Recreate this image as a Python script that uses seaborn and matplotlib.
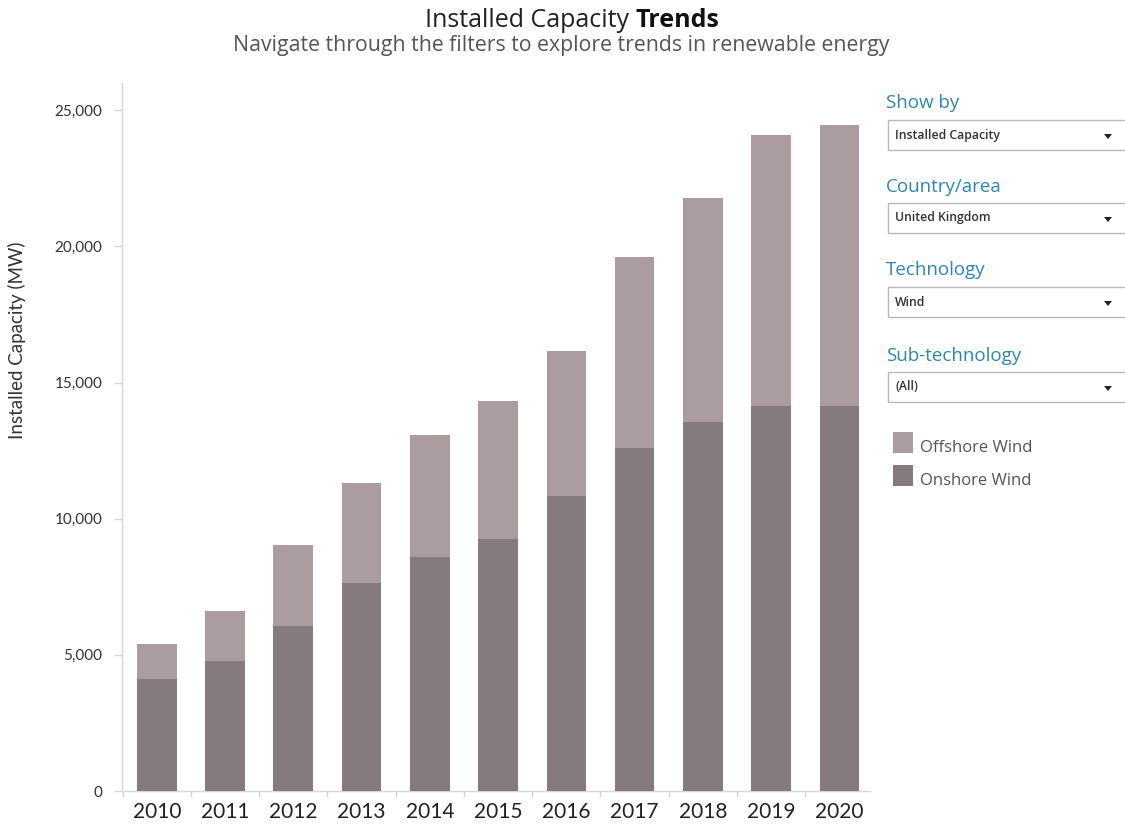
import numpy as np
import pandas as pd
import matplotlib
matplotlib.use("Agg")
import matplotlib.pyplot as plt
import seaborn as sns
from matplotlib.patches import Rectangle, Polygon
from matplotlib.ticker import FuncFormatter

years = ["2010", "2011", "2012", "2013", "2014", "2015", "2016", "2017", "2018", "2019", "2020"]
onshore = [4100, 4780, 6070, 7640, 8590, 9250, 10830, 12600, 13550, 14130, 14130]
offshore_top = [5400, 6620, 9050, 11300, 13070, 14320, 16150, 19600, 21770, 24080, 24450]
offshore = [t - o for t, o in zip(offshore_top, onshore)]

filters = [("Show by", "Installed Capacity"),
           ("Country/area", "United Kingdom"),
           ("Technology", "Wind"),
           ("Sub-technology", "(All)")]
legend_labels = ["Offshore Wind", "Onshore Wind"]

c_off = "#aa9c9f"
c_on = "#857a7e"
teal = "#2f86ae"
grey_txt = "#555555"

df = pd.DataFrame({"year": years, "onshore": onshore, "offshore": offshore})
df["total"] = df["onshore"] + df["offshore"]

sns.set_theme(style="white")
plt.rcParams["font.family"] = ["Lato", "DejaVu Sans"]
OS = ["Open Sans", "DejaVu Sans"]

fig = plt.figure(figsize=(11.25, 8.27), dpi=100)
ax = fig.add_axes([0.1084, 0.0435, 0.665, 0.856])

sns.barplot(data=df, x="year", y="total", color=c_off, width=0.58,
            saturation=1, linewidth=0, ax=ax, zorder=2)
sns.barplot(data=df, x="year", y="onshore", color=c_on, width=0.58,
            saturation=1, linewidth=0, ax=ax, zorder=3)

ax.set_ylim(0, 26000)
ax.set_xlim(-0.51, 10.45)
ax.set_yticks([0, 5000, 10000, 15000, 20000, 25000])
ax.yaxis.set_major_formatter(FuncFormatter(lambda v, p: f"{int(v):,}"))
ax.set_xlabel("")
ax.set_ylabel("Installed Capacity (MW)", fontsize=13.5, color="#333333")
ax.yaxis.set_label_coords(-0.128, 0.637)
for s in ["top", "right"]:
    ax.spines[s].set_visible(False)
for s in ["left", "bottom"]:
    ax.spines[s].set_color("#d6d6d6")
    ax.spines[s].set_linewidth(1)
ax.tick_params(axis="y", length=6, color="#d6d6d6", width=1, labelsize=11,
               labelcolor="#333333", left=True, pad=8)
ax.tick_params(axis="x", length=0, labelsize=15, labelcolor="#222222", pad=8)
# minor ticks between categories on the x axis
ax.set_xticks(np.arange(-0.5, 10.5, 1), minor=True)
ax.tick_params(axis="x", which="minor", length=4, color="#d6d6d6", bottom=True)

# title
fig.text(0.565, 0.975, "Installed Capacity ", ha="right", va="center",
         fontsize=18, color="#222222", family=OS)
fig.text(0.565, 0.975, "Trends", ha="left", va="center", fontsize=18,
         fontweight="bold", color="#111111", family=OS)
fig.text(0.499, 0.945, "Navigate through the filters to explore trends in renewable energy",
         ha="center", va="center", fontsize=15.3, color=grey_txt, family=OS)

# filter panel
W, H = 1125.0, 827.0
title_y = [103, 187, 270, 356]
box_y = [120, 203, 287, 372]
for (lab, val), ty, by in zip(filters, title_y, box_y):
    fig.text(886 / W, 1 - ty / H, lab, ha="left", va="center", fontsize=13.5,
             color=teal, family=OS)
    fig.patches.append(Rectangle((888 / W, 1 - (by + 30) / H), 240 / W, 30 / H,
                                 transform=fig.transFigure, facecolor="white",
                                 edgecolor="#b8b8b8", linewidth=1))
    fig.text(895 / W, 1 - (by + 15) / H, val, ha="left", va="center", fontsize=8.8,
             fontweight="semibold", color="#333333", family=OS)
    cx, cy = 1108, by + 16
    fig.patches.append(Polygon([((cx - 4) / W, 1 - (cy - 2) / H),
                                ((cx + 4) / W, 1 - (cy - 2) / H),
                                (cx / W, 1 - (cy + 3) / H)],
                               closed=True, transform=fig.transFigure,
                               facecolor="#222222", edgecolor="none"))

# legend
for lab, col, ly in zip(legend_labels, [c_off, c_on], [443, 476]):
    fig.patches.append(Rectangle((893 / W, 1 - (ly + 10) / H), 20 / W, 21 / H,
                                 transform=fig.transFigure, facecolor=col,
                                 edgecolor="none"))
    fig.text(920 / W, 1 - (ly + 5) / H, lab, ha="left", va="center", fontsize=12,
             color=grey_txt, family=OS)

fig.savefig("out.png", dpi=100)
